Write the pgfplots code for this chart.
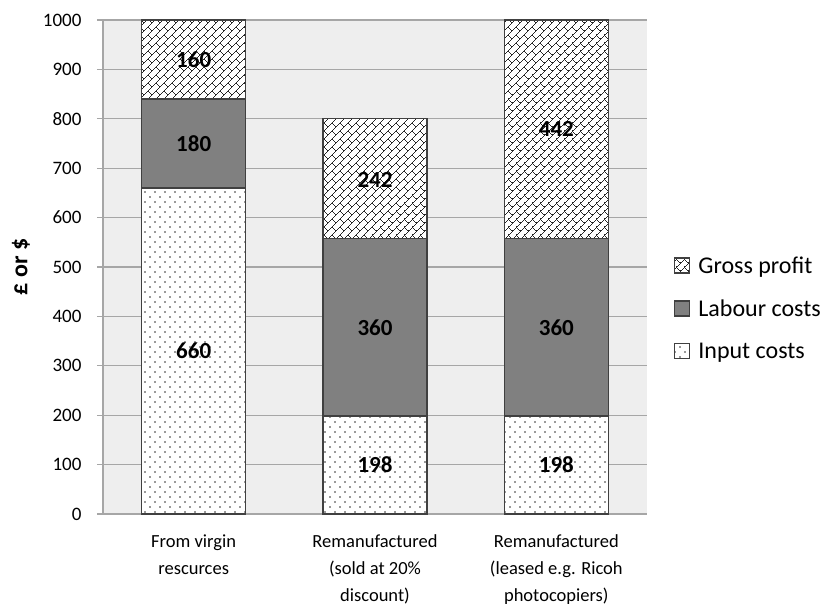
\documentclass[border=0pt]{standalone}
\usepackage{pgfplots}
\pgfplotsset{compat=1.18}
\usepackage{fontspec}
\setmainfont{Carlito}
\usetikzlibrary{patterns.meta}
\definecolor{labour}{HTML}{808080}
\definecolor{edge}{HTML}{404040}
\definecolor{gridc}{HTML}{A6A6A6}
\tikzdeclarepattern{
  name=sparsedots, type=uncolored,
  bottom left={(-1bp,-1bp)}, top right={(11bp,11bp)},
  tile size={(10bp,10bp)},
  code={\fill (0bp,0bp) circle (0.8bp); \fill (5bp,5bp) circle (0.8bp);}
}
\tikzdeclarepattern{
  name=weave, type=uncolored,
  bottom left={(-1bp,-1bp)}, top right={(9bp,9bp)},
  tile size={(8bp,8bp)},
  line width=1bp,
  code={\draw (0bp,0bp) -- (8bp,8bp); \draw (8bp,0bp) -- (4bp,4bp);}
}
\pgfplotsset{
  common/.style={
    scale only axis, width=544bp, height=494bp,
    xmin=-0.5, xmax=2.5, ymin=0, ymax=1000, clip=false,
  }
}
\begin{document}
\begin{tikzpicture}
\useasboundingbox (-103bp,-93bp) rectangle (719bp,514bp);
\begin{axis}[
  common,
  ybar stacked, bar width=104bp,
  xtick={0,1,2},
  xticklabels={{From virgin\\rescurces},{Remanufactured\\(sold at 20\%\\discount)},{Remanufactured\\(leased e.g. Ricoh\\photocopiers)}},
  xticklabel style={align=center, font=\fontsize{18.5bp}{27bp}\selectfont, yshift=-11bp},
  ytick={0,100,...,1000},
  yticklabel style={font=\fontsize{19bp}{22bp}\selectfont, xshift=-12bp},
  /pgf/number format/assume math mode=true,
  /pgf/number format/1000 sep={},
  axis background/.style={fill=gray!13},
  axis x line*=bottom, axis y line*=left,
  axis line style={gridc, line width=1.2bp, -},
  x tick style={draw=none},
  y tick style={gridc, line width=1.2bp},
  tick align=outside, major tick length=6bp,
  ymajorgrids, grid style={gridc, line width=1.2bp},
  ylabel={\bfseries £ or \$},
  every axis y label/.style={at={(axis description cs:-0.151,0.5)}, rotate=90, anchor=center, font=\fontsize{24bp}{28bp}\selectfont},
  legend style={draw=none, fill=none, at={(1,0.416)}, anchor=west, xshift=24bp,
    font=\fontsize{24bp}{28bp}\selectfont, row sep=21bp, cells={anchor=west},
    /tikz/every odd column/.append style={column sep=6bp}},
  legend image code/.code={\draw[#1, line width=1.2bp] (0bp,-7bp) rectangle (15bp,8bp);},
  reverse legend,
]
\addplot[draw=edge, line width=1.4bp, fill=white, postaction={pattern={sparsedots}, pattern color=black!80}]
  coordinates {(0,660) (1,198) (2,198)};
\addlegendentry{Input costs}
\addplot[draw=edge, line width=1.4bp, fill=labour]
  coordinates {(0,180) (1,360) (2,360)};
\addlegendentry{Labour costs}
\addplot[draw=edge, line width=1.4bp, fill=white, postaction={pattern={weave}, pattern color=black!85}]
  coordinates {(0,160) (1,242) (2,442)};
\addlegendentry{Gross profit}
\end{axis}
\begin{axis}[common, hide axis]
\addplot[only marks, mark=none, draw=none,
  nodes near coords, point meta=explicit symbolic,
  every node near coord/.style={anchor=center, font=\fontsize{23bp}{26bp}\selectfont\bfseries, text=black}]
  coordinates {(0,330)[660] (0,750)[180] (0,920)[160]
               (1,99)[198] (1,378)[360] (1,677)[242]
               (2,99)[198] (2,378)[360] (2,779)[442]};
\end{axis}
\end{tikzpicture}
\end{document}
